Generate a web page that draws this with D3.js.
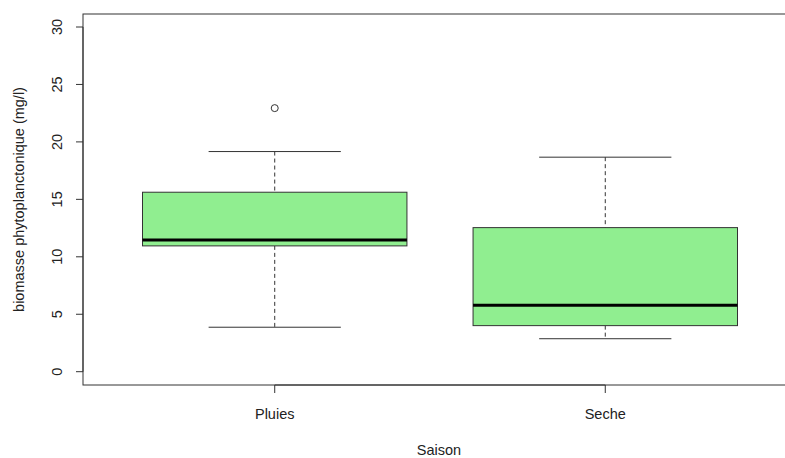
<!DOCTYPE html>
<html><head><meta charset="utf-8">
<script src="https://cdn.jsdelivr.net/npm/d3@7"></script>
<style>body{margin:0;background:#fff}svg{display:block}text{font-family:"Liberation Sans",Arial,Helvetica,sans-serif;fill:#222}</style>
</head><body>
<svg id="c" width="785" height="458"></svg>
<script>
const categories = ["Pluies", "Seche"];
const lowerWhisker = [3.87, 2.87];
const q1 = [10.95, 4.01];
const median = [11.47, 5.78];
const q3 = [15.62, 12.54];
const upperWhisker = [19.16, 18.67];
const outliers = [[22.94], []];
const yTicks = [0, 5, 10, 15, 20, 25, 30];
const xTitle = "Saison";
const yTitle = "biomasse phytoplanctonique (mg/l)";

(function () {
const svg = d3.select("#c");
const fs = 14.5;
const plotLeft = 83, plotTop = 14, plotBottom = 385, plotRight = 797;
const x = d3.scaleLinear().domain([0.42, 2.58]).range([plotLeft, plotRight]);
const y = d3.scaleLinear().domain([0, 30]).range([371.7, 27]);
const stroke = "#333";
const data = categories.map((c, i) => ({c, i: i + 1, lw: lowerWhisker[i], q1: q1[i], med: median[i], q3: q3[i], uw: upperWhisker[i], out: outliers[i]}));

const g = svg.append("g");
data.forEach(d => {
  const cx = x(d.i);
  const bw = x(d.i + 0.4) - x(d.i - 0.4);
  const cw = x(d.i + 0.2) - x(d.i - 0.2);
  g.append("line").attr("x1", cx).attr("x2", cx).attr("y1", y(d.uw)).attr("y2", y(d.q3))
    .attr("stroke", stroke).attr("stroke-dasharray", "4,3");
  g.append("line").attr("x1", cx).attr("x2", cx).attr("y1", y(d.q1)).attr("y2", y(d.lw))
    .attr("stroke", stroke).attr("stroke-dasharray", "4,3");
  [d.uw, d.lw].forEach(v => g.append("line").attr("x1", cx - cw / 2).attr("x2", cx + cw / 2)
    .attr("y1", y(v)).attr("y2", y(v)).attr("stroke", stroke));
  g.append("rect").attr("x", cx - bw / 2).attr("width", bw).attr("y", y(d.q3))
    .attr("height", y(d.q1) - y(d.q3)).attr("fill", "#90EE90").attr("stroke", stroke);
  g.append("line").attr("x1", cx - bw / 2).attr("x2", cx + bw / 2).attr("y1", y(d.med)).attr("y2", y(d.med))
    .attr("stroke", "#000").attr("stroke-width", 3);
  d.out.forEach(v => g.append("circle").attr("cx", cx).attr("cy", y(v)).attr("r", 3.5)
    .attr("fill", "none").attr("stroke", stroke));
});

svg.append("rect").attr("x", plotLeft).attr("y", plotTop).attr("width", plotRight - plotLeft).attr("height", plotBottom - plotTop)
  .attr("fill", "none").attr("stroke", stroke);

const ya = svg.append("g");
ya.append("line").attr("x1", plotLeft).attr("x2", plotLeft).attr("y1", y(0)).attr("y2", y(30)).attr("stroke", stroke);
yTicks.forEach(t => {
  ya.append("line").attr("x1", plotLeft - 7).attr("x2", plotLeft).attr("y1", y(t)).attr("y2", y(t)).attr("stroke", stroke);
  ya.append("text").attr("transform", `translate(62,${y(t)}) rotate(-90)`).attr("text-anchor", "middle")
    .attr("font-size", fs).text(t);
});
svg.append("text").attr("transform", `translate(24,199.5) rotate(-90)`).attr("text-anchor", "middle")
  .attr("font-size", fs).text(yTitle);

const xa = svg.append("g");
xa.append("line").attr("x1", x(1)).attr("x2", x(2)).attr("y1", plotBottom).attr("y2", plotBottom).attr("stroke", stroke);
data.forEach(d => {
  xa.append("line").attr("x1", x(d.i)).attr("x2", x(d.i)).attr("y1", plotBottom).attr("y2", plotBottom + 8).attr("stroke", stroke);
  xa.append("text").attr("x", x(d.i)).attr("y", 419).attr("text-anchor", "middle").attr("font-size", fs).text(d.c);
});
svg.append("text").attr("x", 439).attr("y", 455).attr("text-anchor", "middle").attr("font-size", fs).text(xTitle);
})();
</script>
</body></html>
